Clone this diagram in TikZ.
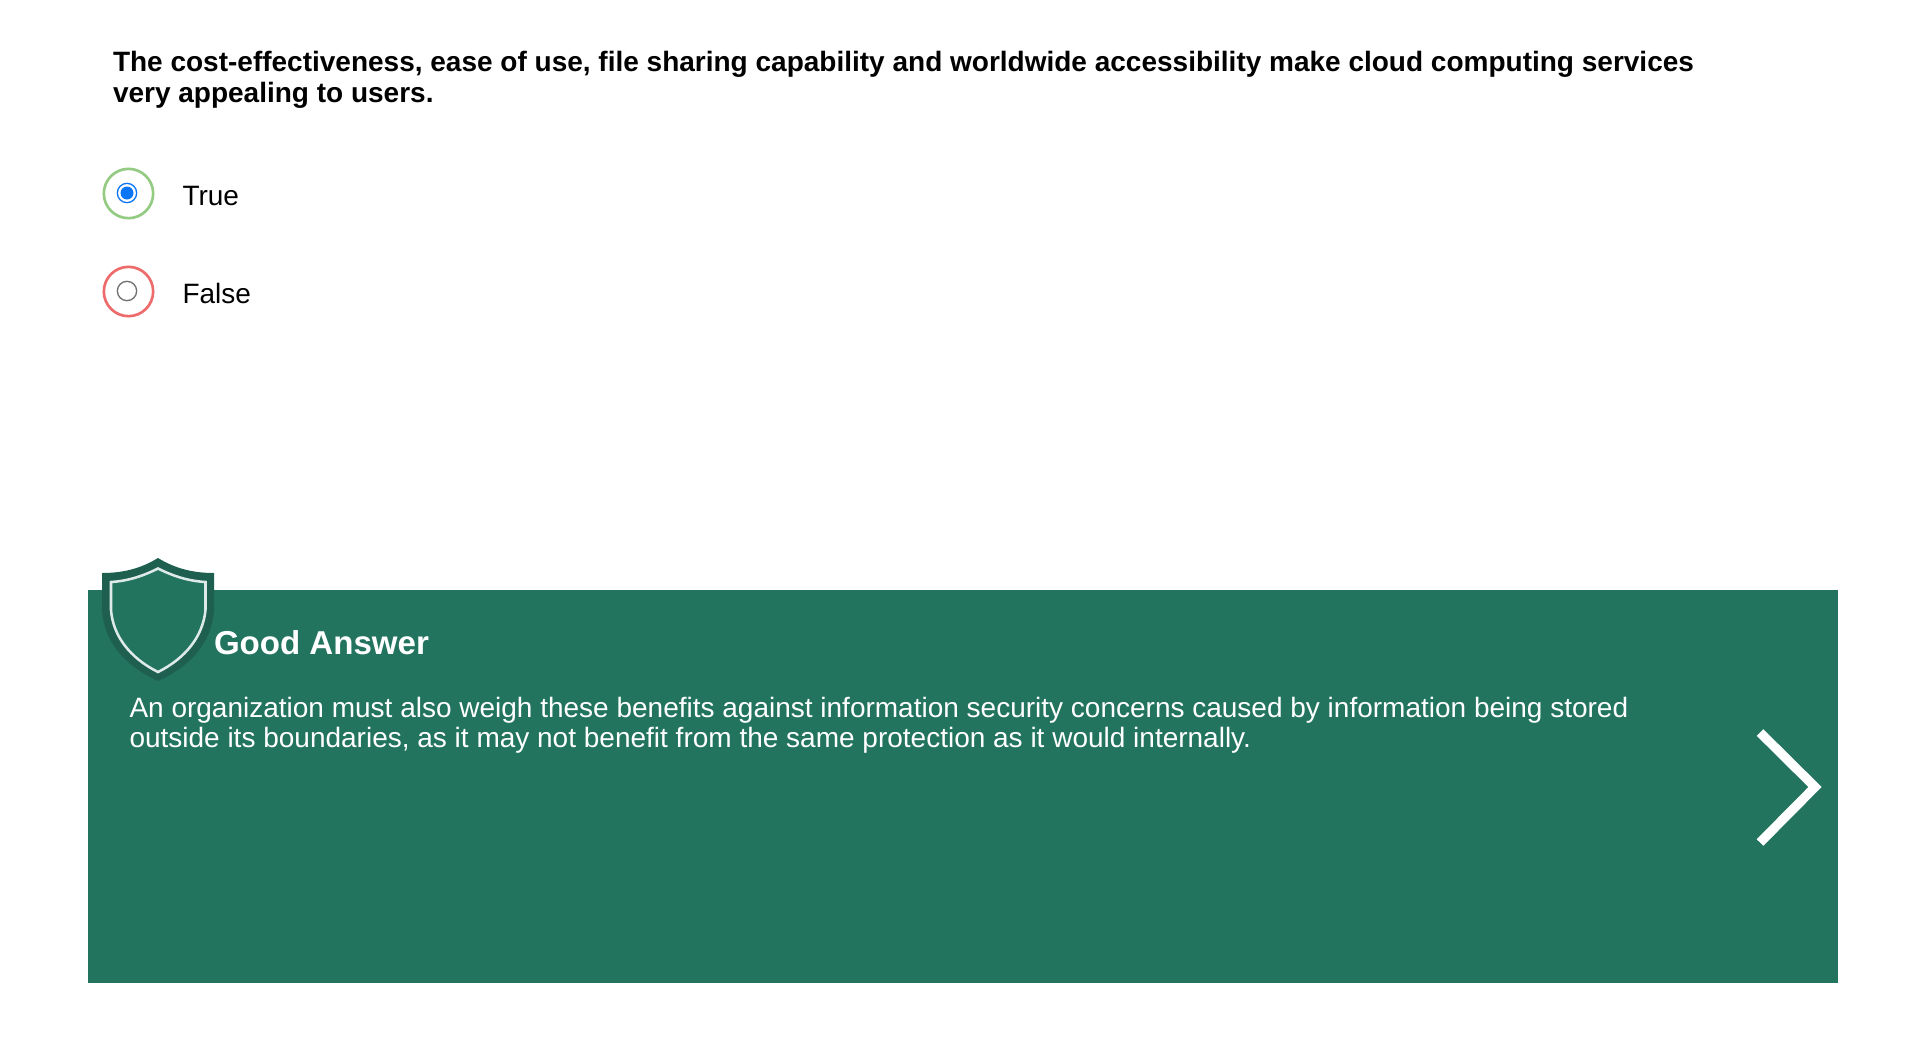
\documentclass[tikz,border=0pt]{standalone}
\usepackage{fontspec}
\setmainfont{Liberation Sans}
\definecolor{panelgreen}{HTML}{22745F}
\definecolor{shielddark}{HTML}{1E5F50}
\definecolor{radiogreen}{HTML}{94CB83}
\definecolor{radiored}{HTML}{EE6B6B}
\definecolor{radioblue}{HTML}{0A76F6}
\definecolor{radiogrey}{HTML}{6F6F6F}
\begin{document}
\begin{tikzpicture}
  [x=.75pt,y=-.75pt,
   every node/.style={inner sep=0,outer sep=0,anchor=base west,align=left},
   ring/.style={circle,draw,line width=2pt,minimum size=37pt,anchor=center},
   radio/.style={circle,draw=radiogrey,line width=1pt,minimum size=14.5pt,anchor=center}]
  \useasboundingbox (0,0) rectangle (1905,1042);

  \node[font=\bfseries\fontsize{21}{22.9}\selectfont] (question) at (113,102)
    {The cost-effectiveness, ease of use, file sharing capability and worldwide accessibility make cloud computing services\\very appealing to users.};

  \node[ring,draw=radiogreen] (ringtrue) at (128.5,193.5) {};
  \node[radio,draw=radioblue,fill=white] (radiotrue) at (127,193) {};
  \fill[radioblue] (radiotrue.center) circle (6.5);
  \node[font=\fontsize{21}{22.9}\selectfont] (labeltrue) at (182.5,205.5) {True};

  \node[ring,draw=radiored] (ringfalse) at (128.5,291.5) {};
  \node[radio] (radiofalse) at (127,291) {};
  \node[font=\fontsize{21}{22.9}\selectfont] (labelfalse) at (182.5,303.5) {False};

  \fill[panelgreen] (88,590) rectangle (1838,982.5);

  % shield
  \fill[shielddark] (158,558) .. controls (140,569) and (122,573) .. (102,573)
    -- (102,610) .. controls (104,642) and (125,666) .. (158,681)
    .. controls (191,666) and (212,642) .. (214,610) -- (214,573)
    .. controls (194,573) and (176,569) .. (158,558) -- cycle;
  \filldraw[fill=panelgreen,draw=white!85!panelgreen,line width=1.9pt]
    (158,568.5) .. controls (143,576) and (128,581) .. (111,582)
    -- (111,610) .. controls (113,636) and (130,658) .. (158,672)
    .. controls (186,658) and (203,636) .. (205.5,610) -- (205.5,582)
    .. controls (188,581) and (173,576) .. (158,568.5) -- cycle;

  \node[font=\bfseries\fontsize{24.8}{27}\selectfont,text=white] (goodanswer) at (214,654) {Good Answer};
  \node[font=\fontsize{21}{22.8}\selectfont,text=white] (feedback) at (129.5,747.5)
    {An organization must also weigh these benefits against information security concerns caused by information being stored\\outside its boundaries, as it may not benefit from the same protection as it would internally.};

  \coordinate (nexttop) at (1760,732.5);
  \coordinate (nexttip) at (1815,787);
  \coordinate (nextbot) at (1760,842.5);
  \draw[white,line width=7pt] (nexttop) -- (nexttip) -- (nextbot);
\end{tikzpicture}
\end{document}
